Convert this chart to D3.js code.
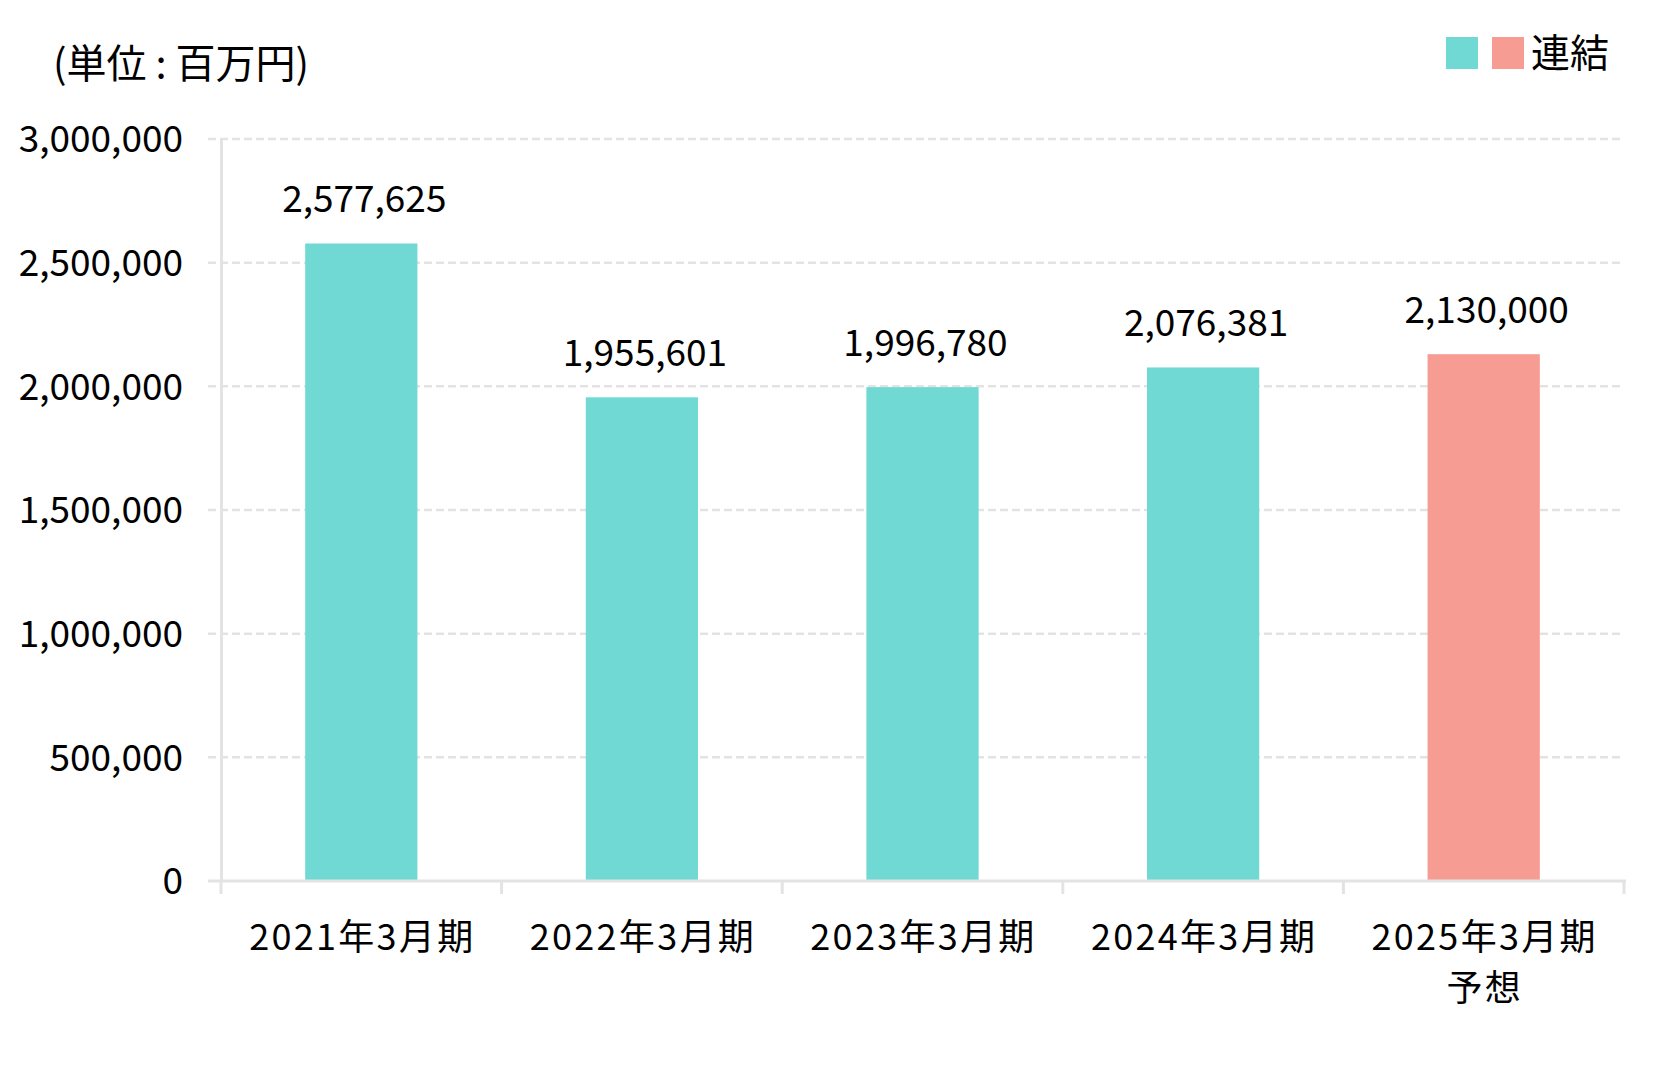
<!DOCTYPE html>
<html><head><meta charset="utf-8">
<script src="https://cdn.jsdelivr.net/npm/d3@7"></script>
<style>body{margin:0;background:#fff;} text{font-family:"Noto Sans CJK JP","Noto Sans",sans-serif;fill:#000;}</style>
</head><body>
<svg id="c" width="1666" height="1092"></svg>
<script>
const categories = ["2021年3月期","2022年3月期","2023年3月期","2024年3月期","2025年3月期"];
const categorySub = ["","","","","予想"];
const values = [2577625,1955601,1996780,2076381,2130000];
const isForecast = [false,false,false,false,true];
const yTicks = [0,500000,1000000,1500000,2000000,2500000,3000000];
const unitLabel = "(単位 : 百万円)";
const legendLabel = "連結";

const svg = d3.select("#c");
const colActual = "#70d9d4", colForecast = "#f79c92";
const pL = 221, pR = 1624, pT = 139, pB = 881;
const x = d3.scaleBand().domain(categories).range([pL,pR]).paddingInner(0.6).paddingOuter(0.3);
const y = d3.scaleLinear().domain([0,3000000]).range([pB,pT]);
const fmt = d3.format(",");

// gridlines
svg.append("g").selectAll("line").data(yTicks.filter(d=>d>0)).join("line")
  .attr("x1",208).attr("x2",pR).attr("y1",d=>y(d)).attr("y2",d=>y(d))
  .attr("stroke","#e3e3e3").attr("stroke-width",2.5).attr("stroke-dasharray","8,4");

// y axis
const yAxis = svg.append("g").attr("transform",`translate(${pL},0)`)
  .call(d3.axisLeft(y).tickValues(yTicks).tickFormat(fmt).tickSize(0).tickPadding(38));
yAxis.select(".domain").attr("stroke","#e3e3e3").attr("stroke-width",3);
yAxis.selectAll("text").style("font-size","37px").attr("font-family",null).attr("dy","0.35em");

// bars
svg.append("g").selectAll("rect").data(values).join("rect")
  .attr("x",(d,i)=>x(categories[i])).attr("width",x.bandwidth())
  .attr("y",d=>y(d)).attr("height",d=>pB-y(d))
  .attr("fill",(d,i)=>isForecast[i]?colForecast:colActual);

// x axis
const xb = d3.scaleLinear().domain([0,categories.length]).range([pL,pR]);
const xAxisG = svg.append("g");
xAxisG.append("line").attr("x1",208).attr("x2",pR+2).attr("y1",pB).attr("y2",pB)
  .attr("stroke","#e3e3e3").attr("stroke-width",3);
xAxisG.selectAll("line.t").data(d3.range(categories.length+1)).join("line").attr("class","t")
  .attr("x1",d=>xb(d)).attr("x2",d=>xb(d)).attr("y1",pB).attr("y2",pB+13)
  .attr("stroke","#e3e3e3").attr("stroke-width",3);

// category labels
svg.append("g").selectAll("text").data(categories).join("text")
  .attr("x",d=>x(d)+x.bandwidth()/2+1).attr("y",937).attr("text-anchor","middle")
  .attr("dy","0.35em").style("font-size","36px").style("letter-spacing","2.3px").text(d=>d);
svg.append("g").selectAll("text").data(categorySub).join("text")
  .attr("x",(d,i)=>x(categories[i])+x.bandwidth()/2+1).attr("y",988).attr("text-anchor","middle")
  .attr("dy","0.35em").style("font-size","36px").style("letter-spacing","2.3px").text(d=>d);

// value labels
svg.append("g").selectAll("text").data(values).join("text")
  .attr("x",(d,i)=>x(categories[i])+x.bandwidth()/2+3).attr("y",d=>y(d)-44)
  .attr("text-anchor","middle").attr("dy","0.35em").style("font-size","37px").text(d=>fmt(d));

// unit label
svg.append("text").attr("x",53).attr("y",63.5).attr("dy","0.35em").style("font-size","40px").text(unitLabel);

// legend
svg.append("rect").attr("x",1446).attr("y",37).attr("width",32).attr("height",32).attr("fill",colActual);
svg.append("rect").attr("x",1492).attr("y",37).attr("width",32).attr("height",32).attr("fill",colForecast);
svg.append("text").attr("x",1531).attr("y",53).attr("dy","0.35em").style("font-size","39px").text(legendLabel);
</script>
</body></html>
